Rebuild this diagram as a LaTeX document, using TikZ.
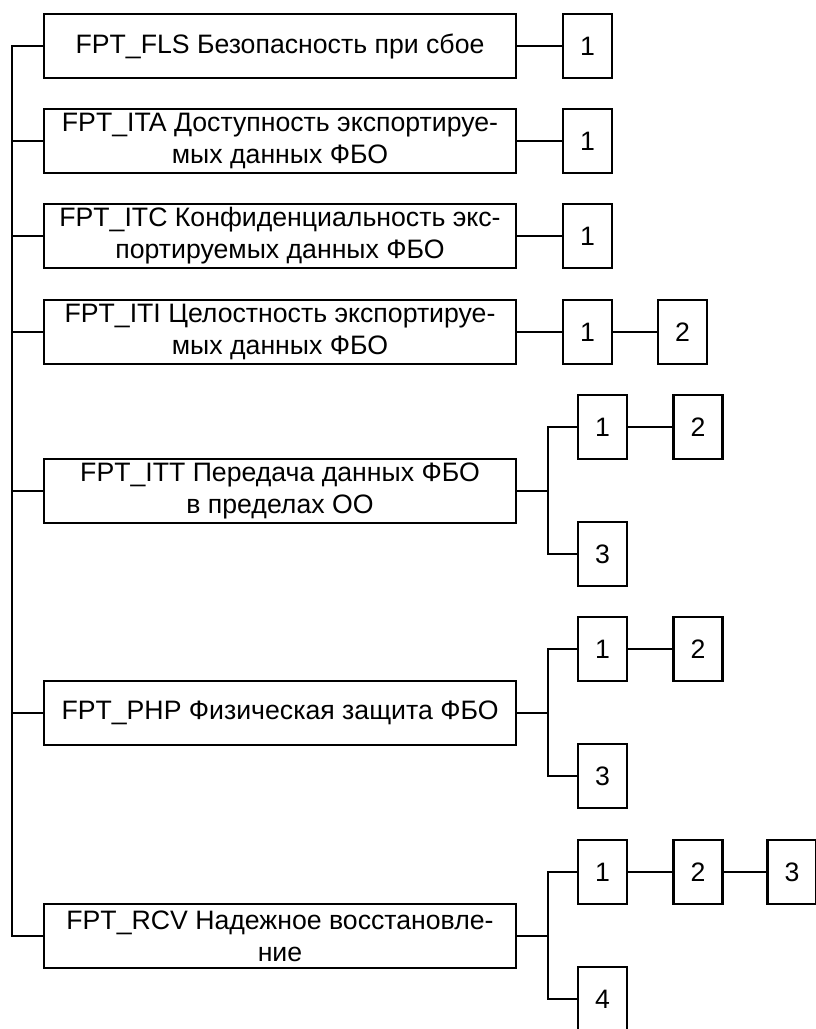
\documentclass[tikz,border=0pt]{standalone}
\usepackage{fontspec}
\setmainfont{Liberation Sans}
\usetikzlibrary{positioning}

\begin{document}
\begin{tikzpicture}[x=0.75pt, y=-0.75pt,
    family/.style={draw, line width=1.6pt, minimum width=354pt, minimum height=48pt,
      inner sep=0pt, align=center, font=\fontsize{20}{24}\selectfont},
    component/.style={draw, line width=1.6pt, minimum width=36.75pt, minimum height=48pt,
      inner sep=0pt, font=\fontsize{20}{24}\selectfont},
    link/.style={line width=1.2pt}]
  \useasboundingbox (0,0) rectangle (815,1029);

  % Family boxes
  \foreach \n/\y/\t in {FLS/46/{FPT\_FLS Безопасность при сбое},
      ITA/141/{FPT\_ITA Доступность экспортируе-\\мых данных ФБО},
      ITC/236/{FPT\_ITC Конфиденциальность экс-\\портируемых данных ФБО},
      ITI/332/{FPT\_ITI Целостность экспортируе-\\мых данных ФБО},
      ITT/491/{FPT\_ITT Передача данных ФБО\\в пределах ОО},
      PHP/713/{FPT\_PHP Физическая защита ФБО},
      RCV/936/{FPT\_RCV Надежное восстановле-\\ние}}
    \node [family] (family-\n) at (280,\y) {\t};

  % Components of the simple families
  \foreach \n/\y in {FLS/46, ITA/141, ITC/236, ITI/332}
    \node [component] (\n-1) at (587.5,\y) {1};
  \node [component] (ITI-2) at (682.5,332) {2};

  % Components of the branching families
  \foreach \n/\y in {ITT/491, PHP/713, RCV/936}{
    \coordinate (fork-\n) at (548,\y);
    \node [component] (\n-1) at (602.5,\y-64) {1};
    \node [component] (\n-2) at (698,\y-64) {2};
  }
  \node [component] (ITT-3) at (602.5,554) {3};
  \node [component] (PHP-3) at (602.5,776) {3};
  \node [component] (RCV-3) at (792,872) {3};
  \node [component] (RCV-4) at (602.5,999) {4};

  % Draw the trunk
  \coordinate (trunk) at (12,0);
  \draw [link] (family-FLS.west) -- (family-FLS.west -| trunk)
    -- (family-RCV.west -| trunk) -- (family-RCV.west);
  \foreach \n in {ITA,ITC,ITI,ITT,PHP}
    \draw [link] (family-\n.west) -- (family-\n.west -| trunk);

  % Draw the connecting lines
  \foreach \n in {FLS,ITA,ITC,ITI}
    \draw [link] (family-\n) -- (\n-1);
  \draw [link] (ITI-1) -- (ITI-2);

  \foreach \n/\l in {ITT/3, PHP/3, RCV/4}{
    \draw [link] (family-\n) -- (fork-\n);
    \draw [link] (\n-1) -| (fork-\n) |- (\n-\l);
    \draw [link] (\n-1) -- (\n-2);
  }
  \draw [link] (RCV-2) -- (RCV-3);
\end{tikzpicture}
\end{document}
